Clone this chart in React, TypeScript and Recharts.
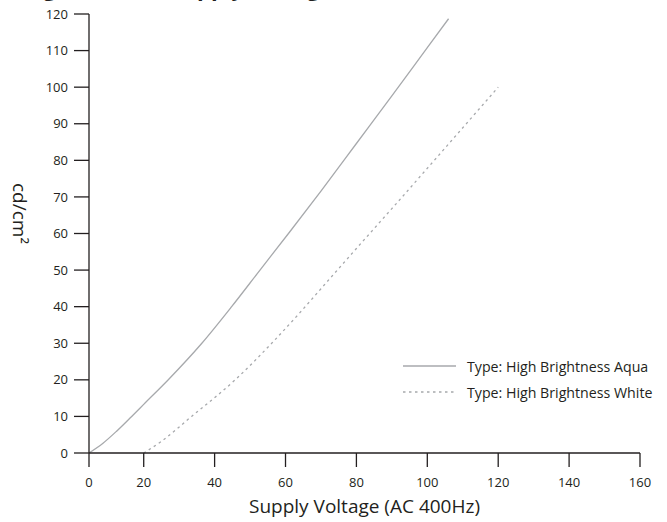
import React from "react";
import { LineChart, Line, XAxis, YAxis, Legend } from "recharts";

// readings (volts AC, cd/cm²)
const aquaVolts = [0, 5, 10, 15.6, 20, 27, 36.4, 44.8, 52.8, 61, 70, 80, 90, 100, 106];
const aquaBrightness = [0, 2.6, 5.9, 10, 13.3, 20.1, 30, 40, 50, 60.2, 71.6, 84.6, 97.6, 110.8, 118.7];
const whiteVolts = [20, 25, 33.5, 45.8, 56.1, 64, 70, 80, 90, 101.7, 110, 120];
const whiteBrightness = [0, 3.2, 10, 20, 30, 38.3, 44.9, 55.9, 66.8, 79.7, 88.9, 100];

const voltageTicks = [0, 20, 40, 60, 80, 100, 120, 140, 160];
const brightnessTicks = [0, 10, 20, 30, 40, 50, 60, 70, 80, 90, 100, 110, 120];

const aquaName = "Type: High Brightness Aqua";
const whiteName = "Type: High Brightness White";

const FONT = "'Open Sans', sans-serif";
const INK = "#231f20";
const CURVE = "#a7a9ac";

const aquaData = aquaVolts.map((v, i) => ({ v, b: aquaBrightness[i] }));
const whiteData = whiteVolts.map((v, i) => ({ v, b: whiteBrightness[i] }));

// the source axis squeezes 0–20 V into a short first segment
const BREAK_AT = 20;
const BREAK_SHARE = 0.0993;

function voltageScale(): any {
  let dom: number[] = [0, 160];
  let rng: number[] = [0, 1];
  const scale: any = (value: number) => {
    const [d0, d1] = dom;
    const [r0, r1] = rng;
    let t: number;
    if (value <= BREAK_AT) t = ((value - d0) / (BREAK_AT - d0)) * BREAK_SHARE;
    else t = BREAK_SHARE + ((value - BREAK_AT) / (d1 - BREAK_AT)) * (1 - BREAK_SHARE);
    return r0 + t * (r1 - r0);
  };
  scale.domain = (d?: number[]) => {
    if (d === undefined) return dom.slice();
    dom = d.map(Number);
    return scale;
  };
  scale.range = (r?: number[]) => {
    if (r === undefined) return rng.slice();
    rng = r.map(Number);
    return scale;
  };
  scale.copy = () => voltageScale().domain(dom).range(rng);
  scale.ticks = () => voltageTicks;
  scale.invert = (px: number) => {
    const [d0, d1] = dom;
    const [r0, r1] = rng;
    const t = (px - r0) / (r1 - r0);
    if (t <= BREAK_SHARE) return d0 + (t / BREAK_SHARE) * (BREAK_AT - d0);
    return BREAK_AT + ((t - BREAK_SHARE) / (1 - BREAK_SHARE)) * (d1 - BREAK_AT);
  };
  return scale;
}

const renderYLabel = (props: any) => {
  const vb = props.viewBox || { x: 0, y: 14, width: 89, height: 439 };
  const x = vb.x + 13;
  const y = vb.y + vb.height / 2 - 20;
  return (
    <text
      x={x}
      y={y}
      transform={`rotate(90, ${x}, ${y})`}
      textAnchor="middle"
      fill={INK}
      fontSize={19}
      fontFamily={FONT}
    >
      cd/cm²
    </text>
  );
};

const renderLegend = (props: any) => {
  const items = props.payload || [];
  return (
    <div style={{ fontFamily: FONT, fontSize: 14.2, color: INK }}>
      {items.map((entry: any) => (
        <div
          key={entry.value}
          style={{ display: "flex", alignItems: "center", height: 26 }}
        >
          <svg width={53} height={4} style={{ marginRight: 11, flexShrink: 0 }}>
            <line
              x1={0}
              y1={2}
              x2={53}
              y2={2}
              stroke={CURVE}
              strokeWidth={1.3}
              strokeDasharray={entry.payload?.strokeDasharray}
            />
          </svg>
          <span style={{ whiteSpace: "nowrap" }}>{entry.value}</span>
        </div>
      ))}
    </div>
  );
};

export default function App() {
  return (
    <div
      style={{
        position: "absolute",
        left: 0,
        top: 0,
        width: 667,
        height: 522,
        background: "#fff",
        overflow: "hidden",
      }}
    >
      <div
        style={{
          position: "absolute",
          left: 12,
          top: -24,
          fontFamily: FONT,
          fontWeight: 700,
          fontSize: 22,
          lineHeight: "22px",
          color: INK,
          whiteSpace: "nowrap",
        }}
      >
        Brightness vs. Supply Voltage
      </div>
      <LineChart
        width={667}
        height={522}
        margin={{ top: 14, right: 27, bottom: 9, left: 0 }}
        style={{ fontFamily: FONT }}
      >
        <XAxis
          dataKey="v"
          type="number"
          scale={voltageScale()}
          domain={[0, 160]}
          allowDataOverflow
          ticks={voltageTicks}
          interval={0}
          height={60}
          tickSize={14}
          tickMargin={11}
          stroke={INK}
          strokeWidth={1.3}
          tick={{ fill: INK, fontSize: 13 }}
          label={{
            value: "Supply Voltage (AC 400Hz)",
            position: "insideBottom",
            offset: 0,
            fill: INK,
            fontSize: 19,
          }}
        />
        <YAxis
          dataKey="b"
          type="number"
          domain={[0, 120]}
          ticks={brightnessTicks}
          interval={0}
          width={89}
          tickSize={15}
          tickMargin={6}
          stroke={INK}
          strokeWidth={1.3}
          tick={{ fill: INK, fontSize: 13 }}
          label={{ content: renderYLabel }}
        />
        <Legend
          layout="vertical"
          verticalAlign="middle"
          align="center"
          content={renderLegend}
          wrapperStyle={{ left: 403, top: 353, width: 264, height: 52 }}
        />
        <Line
          data={aquaData}
          dataKey="b"
          name={aquaName}
          type="monotone"
          stroke={CURVE}
          strokeWidth={1.3}
          dot={false}
          activeDot={false}
          isAnimationActive={false}
        />
        <Line
          data={whiteData}
          dataKey="b"
          name={whiteName}
          type="monotone"
          stroke={CURVE}
          strokeWidth={1.3}
          strokeDasharray="2.5 3.5"
          dot={false}
          activeDot={false}
          isAnimationActive={false}
        />
      </LineChart>
    </div>
  );
}
